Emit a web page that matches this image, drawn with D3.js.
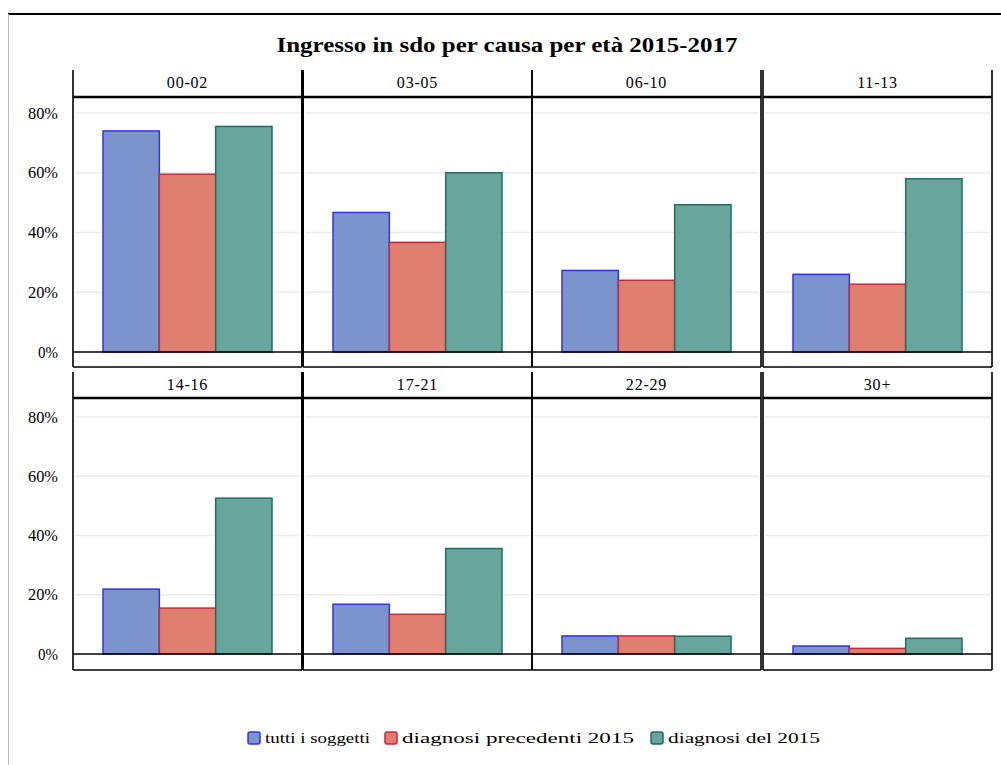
<!DOCTYPE html>
<html><head><meta charset="utf-8">
<script src="https://cdn.jsdelivr.net/npm/d3@7"></script>
<style>body{margin:0;background:#fff}svg{display:block}text{font-family:"Liberation Serif","Times New Roman",serif;fill:#000}</style>
</head><body><div id="chart"></div>
<script>
const title = "Ingresso in sdo per causa per età 2015-2017";
const ageGroups = ["00-02","03-05","06-10","11-13","14-16","17-21","22-29","30+"];
const seriesNames = ["tutti i soggetti","diagnosi precedenti 2015","diagnosi del 2015"];
const tuttiSoggetti = [0.74, 0.467, 0.273, 0.26, 0.219, 0.168, 0.061, 0.027];
const diagnosiPrecedenti = [0.595, 0.367, 0.24, 0.227, 0.155, 0.134, 0.061, 0.019];
const diagnosiDel2015 = [0.755, 0.60, 0.493, 0.58, 0.526, 0.356, 0.06, 0.053];
const yTicks = [0, 0.2, 0.4, 0.6, 0.8];
const fills = ["#7b94cb","#e07e6f","#67a59d"];
const strokes = ["#3333ee","#c52a3a","#1e6e63"];

const W = 1001, H = 765;
const svg = d3.select("#chart").append("svg").attr("width", W).attr("height", H);

// outer frame
svg.append("line").attr("x1",8).attr("x2",W).attr("y1",14).attr("y2",14).attr("stroke","#000").attr("stroke-width",2);
svg.append("line").attr("x1",8.5).attr("x2",8.5).attr("y1",14).attr("y2",H).attr("stroke","#bbb").attr("stroke-width",1);

svg.append("text").attr("x",507).attr("y",52).attr("text-anchor","middle")
  .attr("font-size",21).attr("font-weight","bold").attr("textLength",461).attr("lengthAdjust","spacingAndGlyphs").text(title);

const values = [tuttiSoggetti, diagnosiPrecedenti, diagnosiDel2015];
const colX = [73, 303, 532, 763];
const panelW = 229;
const rows = [
  {stripTop:70, top:97, y0:352, y80:113, bottom:367},
  {stripTop:372, top:398, y0:654, y80:417, bottom:670}
];
const fmt = d3.format(".0%");

rows.forEach((r, ri) => {
  const y = d3.scaleLinear().domain([0, 0.8]).range([r.y0, r.y80]);
  // y axis labels
  const ax = svg.append("g").attr("transform", `translate(${colX[0]-15},0)`)
    .call(d3.axisLeft(y).tickValues(yTicks).tickFormat(fmt).tickSize(0).tickPadding(0));
  ax.select(".domain").remove();
  ax.selectAll("text").attr("font-size",16).attr("textLength", d => d === 0 ? 20 : 30).attr("lengthAdjust","spacingAndGlyphs");

  colX.forEach((cx, ci) => {
    const k = ri*4 + ci;
    const g = svg.append("g");
    // gridlines
    g.selectAll("line.grid").data(yTicks.filter(t => t > 0)).join("line")
      .attr("x1", cx+2).attr("x2", cx+panelW-2)
      .attr("y1", d => y(d)).attr("y2", d => y(d))
      .attr("stroke","#ececec").attr("stroke-width",1.5);
    const x = d3.scaleBand().domain(seriesNames).range([cx+30, cx+199]).paddingInner(0);
    g.selectAll("rect.bar").data(seriesNames).join("rect")
      .attr("x", d => x(d)).attr("width", x.bandwidth())
      .attr("y", (d,i) => y(values[i][k])).attr("height", (d,i) => y(0) - y(values[i][k]))
      .attr("fill", (d,i) => fills[i]).attr("stroke", (d,i) => strokes[i]).attr("stroke-width",1.5);
    // zero line
    g.append("line").attr("x1",cx).attr("x2",cx+panelW).attr("y1",y(0)).attr("y2",y(0)).attr("stroke","#000").attr("stroke-width",1.5);
    // panel bottom
    g.append("line").attr("x1",cx).attr("x2",cx+panelW).attr("y1",r.bottom).attr("y2",r.bottom).attr("stroke","#000").attr("stroke-width",1.5);
    // strip bottom / panel top
    g.append("line").attr("x1",cx).attr("x2",cx+panelW).attr("y1",r.top).attr("y2",r.top).attr("stroke","#000").attr("stroke-width",2.5);
    // sides
    [cx, cx+panelW].forEach(sx => {
      g.append("line").attr("x1",sx).attr("x2",sx).attr("y1",r.stripTop).attr("y2",r.bottom).attr("stroke","#000").attr("stroke-width",1.6);
    });
    g.append("text").attr("x", cx+panelW/2).attr("y", r.stripTop+18).attr("text-anchor","middle")
      .attr("font-size",16).attr("letter-spacing",0.8).text(ageGroups[k]);
  });
  // thick divider between first and second column
  svg.append("line").attr("x1",302.5).attr("x2",302.5).attr("y1",r.stripTop).attr("y2",r.bottom).attr("stroke","#000").attr("stroke-width",3);
});

// legend
const legX = [248, 385, 651];
const legW = [105, 232, 152];
const lg = svg.append("g");
seriesNames.forEach((s, i) => {
  lg.append("rect").attr("x", legX[i]).attr("y", 732).attr("width", 12).attr("height", 12).attr("rx",2)
    .attr("fill", fills[i]).attr("stroke", strokes[i]).attr("stroke-width",1.5);
  lg.append("text").attr("x", legX[i]+17).attr("y", 743).attr("font-size",15)
    .attr("textLength", legW[i]).attr("lengthAdjust","spacingAndGlyphs").text(s);
});
</script></body></html>
